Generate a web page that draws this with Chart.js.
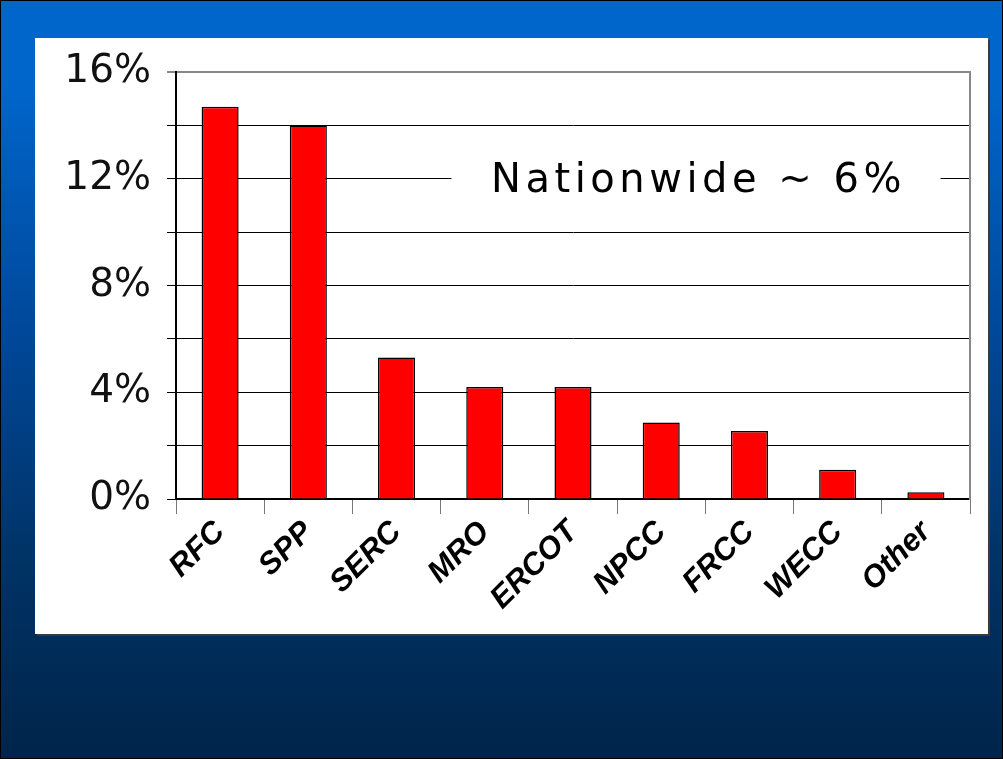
<!DOCTYPE html>
<html>
<head>
<meta charset="utf-8">
<script src="https://cdn.jsdelivr.net/npm/chart.js@4.4.1/dist/chart.umd.min.js"></script>
<style>
  html, body { margin: 0; padding: 0; }
  body {
    width: 1001px; height: 757px;
    border: 1px solid #000;
    background: linear-gradient(to bottom, #0066cc 0px, #0066cc 80px, #00489a 330px, #003366 560px, #00244a 757px);
    position: relative; overflow: hidden;
  }
  #panel {
    position: absolute; left: 34px; top: 37px; width: 953px; height: 596px;
    background: #fff; box-shadow: 2px 2px 0 #3a3a3a;
  }
  canvas { display: block; }
</style>
</head>
<body>
<div id="panel"><canvas id="barChart" width="953" height="596"></canvas></div>
<script>
const regions = ['RFC', 'SPP', 'SERC', 'MRO', 'ERCOT', 'NPCC', 'FRCC', 'WECC', 'Other'];
const shares = [14.7, 14.0, 5.3, 4.2, 4.2, 2.87, 2.55, 1.1, 0.25];   // percent
const yTicks = [0, 4, 8, 12, 16];
const note = 'Nationwide ~ 6%';

const ctx = document.getElementById('barChart').getContext('2d');

// white box + text over the 12% gridline
const notePlugin = {
    id: 'note',
    afterDraw(chart) {
        const c = chart.ctx;
        const x = chart.scales.x, y = chart.scales.y;
        const cx = x.getPixelForValue(5.4);
        const cy = y.getPixelForValue(12);
        c.save();
        c.fillStyle = '#fff';
        c.fillRect(cx - 245, cy - 22, 489, 44);
        c.font = '40px "DejaVu Sans"';
        c.letterSpacing = '4.5px';
        c.fillStyle = '#000';
        c.textAlign = 'center';
        c.textBaseline = 'middle';
        c.fillText(note, cx + 2, cy + 3);
        c.restore();
    }
};

new Chart(ctx, {
    type: 'bar',
    data: {
        labels: regions,
        datasets: [{
            data: shares,
            backgroundColor: '#ff0000',
            borderColor: '#000',
            borderWidth: 1.5,
            barPercentage: 0.42,
            categoryPercentage: 1
        }]
    },
    options: {
        responsive: false,
        animation: false,
        layout: { padding: { top: 34, right: 18, left: 0, bottom: 0 } },
        plugins: { legend: { display: false }, tooltip: { enabled: false } },
        scales: {
            x: {
                grid: { drawOnChartArea: false, drawTicks: true, tickLength: 15, color: '#777', offset: true },
                border: { color: '#000', width: 2 },
                ticks: {
                    color: '#000',
                    font: { family: '"Liberation Sans", Arial', size: 31, weight: 'bold', style: 'italic' },
                    minRotation: 45, maxRotation: 45, padding: 0
                },
                afterFit: s => { s.height = 135; }
            },
            y: {
                min: 0, max: 16,
                grid: {
                    color: c => (c.tick && c.tick.value === 16) ? '#888' : '#000',
                    lineWidth: c => (c.tick && c.tick.value === 16) ? 2 : 1,
                    tickLength: 9
                },
                border: { color: '#000', width: 2 },
                ticks: {
                    stepSize: 2,
                    color: '#111',
                    padding: 16,
                    font: { family: '"DejaVu Sans"', size: 39 },
                    callback: v => yTicks.includes(v) ? v + '%' : ''
                },
                afterFit: s => { s.width = 141; s.paddingTop = 0; s.paddingBottom = 0; }
            },
            y2: {
                position: 'right',
                min: 0, max: 16,
                grid: { drawOnChartArea: false, drawTicks: false },
                border: { color: '#888', width: 2 },
                ticks: { display: false },
                afterFit: s => { s.width = 0; }
            }
        }
    },
    plugins: [notePlugin]
});
</script>
</body>
</html>
